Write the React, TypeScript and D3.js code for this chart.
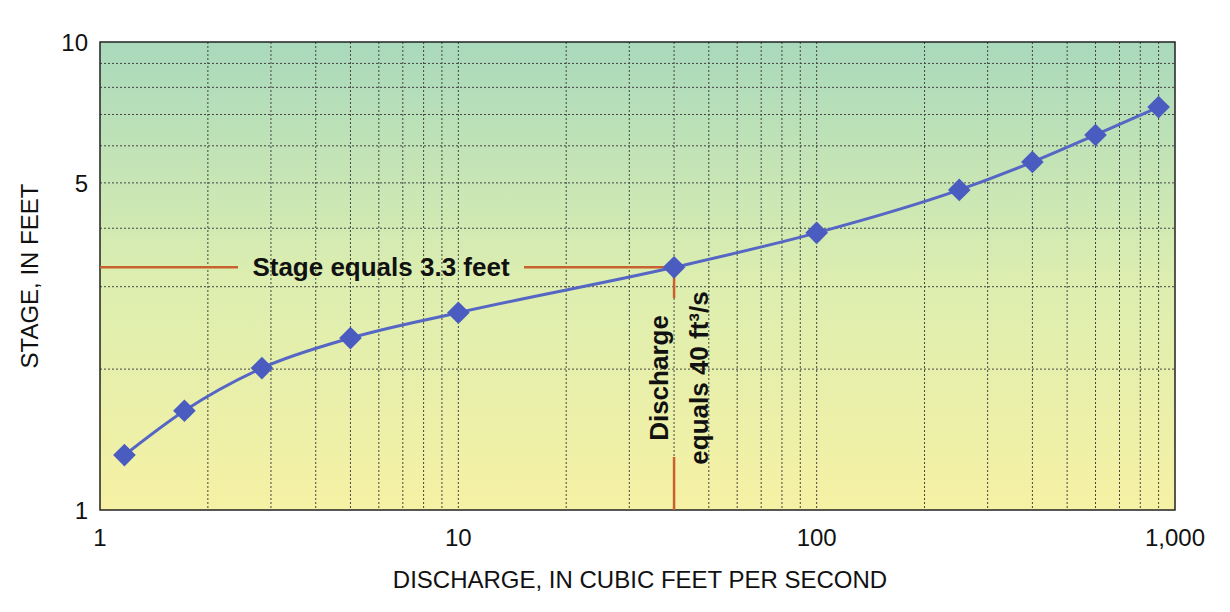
import React from "react";
import * as d3 from "d3";

const discharge = [1.17, 1.72, 2.83, 5.0, 10, 40, 100, 250, 400, 600, 900];
const stage = [1.31, 1.63, 2.01, 2.33, 2.64, 3.3, 3.91, 4.83, 5.54, 6.33, 7.26];
const xTicks = [1, 10, 100, 1000];
const yTicks = [1, 5, 10];

export default function App() {
  const W = 1230, H = 612;
  const m = { l: 100, r: 55, t: 42, b: 102 };
  const x = d3.scaleLog().domain([1, 1000]).range([m.l, W - m.r]);
  const y = d3.scaleLog().domain([1, 10]).range([H - m.b, m.t]);
  const pts = discharge.map((d, i) => [d, stage[i]] as [number, number]);
  const line = d3.line<[number, number]>().x(d => x(d[0])).y(d => y(d[1])).curve(d3.curveMonotoneX);
  const xMinor: number[] = [];
  for (const dec of [1, 10, 100]) for (let k = 2; k <= 9; k++) xMinor.push(dec * k);
  const yMinor = [2, 3, 4, 5, 6, 7, 8, 9];
  const orange = "#c8612e";
  const font = "Liberation Sans, Arial, sans-serif";
  const px = x(40), py = y(3.3);
  return (
    <svg width={W} height={H} style={{ position: "absolute", left: 0, top: 0, background: "#fff" }}>
      <defs>
        <linearGradient id="bg" x1="0" y1="0" x2="0" y2="1">
          <stop offset="0" stopColor="#a9d9bc" />
          <stop offset="0.5" stopColor="#dceeb0" />
          <stop offset="1" stopColor="#f6f1a4" />
        </linearGradient>
      </defs>
      <rect x={m.l} y={m.t} width={W - m.r - m.l} height={H - m.b - m.t} fill="url(#bg)" />
      {xMinor.map(v => (
        <line key={"x" + v} x1={x(v)} x2={x(v)} y1={m.t} y2={H - m.b} stroke="#444" strokeWidth={1} strokeDasharray="2,2" />
      ))}
      {xTicks.slice(1, 3).map(v => (
        <line key={"xm" + v} x1={x(v)} x2={x(v)} y1={m.t} y2={H - m.b} stroke="#444" strokeWidth={1} strokeDasharray="2,2" />
      ))}
      {yMinor.map(v => (
        <line key={"y" + v} x1={m.l} x2={W - m.r} y1={y(v)} y2={y(v)} stroke="#444" strokeWidth={1} strokeDasharray="2,2" />
      ))}
      <rect x={m.l} y={m.t} width={W - m.r - m.l} height={H - m.b - m.t} fill="none" stroke="#222" strokeWidth={1.5} />
      {/* annotations */}
      <line x1={m.l} x2={238} y1={py} y2={py} stroke={orange} strokeWidth={2.5} />
      <line x1={524} x2={px} y1={py} y2={py} stroke={orange} strokeWidth={2.5} />
      <text x={381} y={py + 9} textAnchor="middle" fontFamily={font} fontWeight="bold" fontSize={26} fill="#111">Stage equals 3.3 feet</text>
      <line x1={px} x2={px} y1={py} y2={298} stroke={orange} strokeWidth={2.5} />
      <line x1={px} x2={px} y1={457} y2={H - m.b} stroke={orange} strokeWidth={2.5} />
      <g transform={`translate(${px},378) rotate(-90)`} fontFamily={font} fontWeight="bold" fontSize={26} fill="#111" textAnchor="middle">
        <text x={0} y={-6}>Discharge</text>
        <text x={0} y={34}>equals 40 ft³/s</text>
      </g>
      <path d={line(pts) ?? ""} fill="none" stroke="#5566c4" strokeWidth={3} />
      {pts.map((p, i) => (
        <rect key={i} x={-8} y={-8} width={16} height={16} fill="#4a5cc0"
          transform={`translate(${x(p[0])},${y(p[1])}) rotate(45)`} />
      ))}
      {xTicks.map(v => (
        <text key={v} x={x(v)} y={H - m.b + 36} textAnchor="middle" fontFamily={font} fontSize={24} fill="#111">{d3.format(",")(v)}</text>
      ))}
      {yTicks.map(v => (
        <text key={v} x={m.l - 12} y={y(v) + 9} textAnchor="end" fontFamily={font} fontSize={24} fill="#111">{v}</text>
      ))}
      <text x={640} y={H - 24} textAnchor="middle" fontFamily={font} fontSize={24} fill="#111">DISCHARGE, IN CUBIC FEET PER SECOND</text>
      <text transform={`translate(38,${(m.t + H - m.b) / 2}) rotate(-90)`} textAnchor="middle" fontFamily={font} fontSize={24} fill="#111">STAGE, IN FEET</text>
    </svg>
  );
}
